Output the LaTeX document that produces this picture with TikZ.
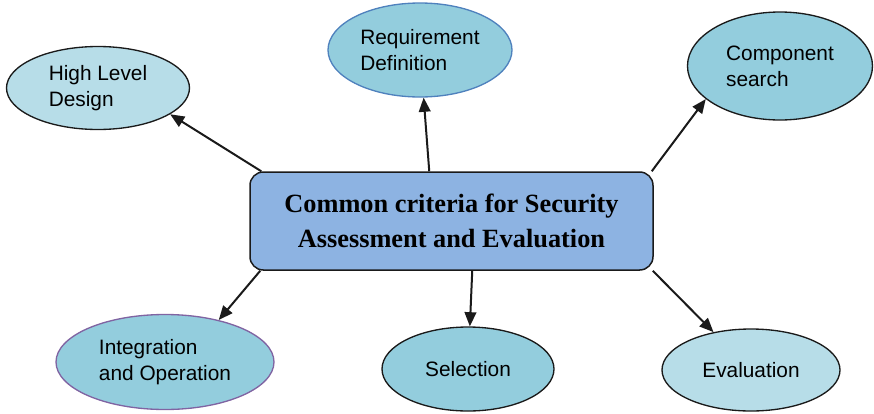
\documentclass[tikz,border=0pt]{standalone}
\usepackage{fontspec}
\setmainfont{Liberation Serif}
\setsansfont{Liberation Sans}
\usetikzlibrary{arrows.meta,positioning,calc,shapes.geometric}
\definecolor{pale}{HTML}{B7DDE8}
\definecolor{aqua}{HTML}{93CDDD}
\definecolor{hub}{HTML}{8DB3E2}
\definecolor{rim}{HTML}{4F81BD}
\definecolor{plum}{HTML}{8064A2}
\definecolor{ink}{HTML}{1A1A1A}

\begin{document}
\begin{tikzpicture}[x=0.6pt, y=-0.6pt, >={Triangle[length=8.5pt,width=7pt]},
  n/.style={ellipse, draw=ink, line width=0.8pt, inner sep=0pt, align=left, fill=aqua,
            font=\sffamily\fontsize{12.5}{15.5}\selectfont},
  pale/.style={n, fill=pale}, blu/.style={n, draw=rim}, pur/.style={n, draw=plum},
  hub/.style={draw=ink, line width=0.9pt, fill=hub, rounded corners=8pt, align=center,
              minimum width=241.8pt, minimum height=58.8pt, font=\bfseries\fontsize{15.8}{21}\selectfont},
  e/.style={->, line width=1.2pt, draw=ink}
]
\useasboundingbox (0,0) rectangle (874,413);
\node[hub] (cc) at (451.5,221) {Common criteria for Security\\Assessment and Evaluation};
\node[blu, pale, minimum width=109.8pt, minimum height=49.8pt] (hld) at (98,88) {High Level\\Design};
\node[blu, minimum width=110.4pt, minimum height=56.4pt] (req) at (420,50) {Requirement\\Definition};
\node[n, minimum width=111pt, minimum height=64.8pt] (comp) at (780,66) {Component\\search};
\node[pur, minimum width=130.8pt, minimum height=57pt] (integ) at (165,362) {Integration\\and Operation};
\node[n, minimum width=103.2pt, minimum height=50.4pt] (sel) at (468,369) {Selection};
\node[pale, minimum width=106.8pt, minimum height=49.2pt] (eval) at (751,370) {Evaluation};
\draw[e] ($(cc.north west)+(12,0)$) -- (hld.-20);
\draw[e] ($(cc.north west)+(180,0)$) -- (req);
\draw[e] ($(cc.north east)+(-2,0)$) -- (comp.204);
\draw[e] ($(cc.south west)+(11,0)$) -- (integ.38);
\draw[e] ($(cc.south west)+(223,0)$) -- (sel);
\draw[e] ($(cc.south east)+(-1,0)$) -- (eval);
\end{tikzpicture}
\end{document}
